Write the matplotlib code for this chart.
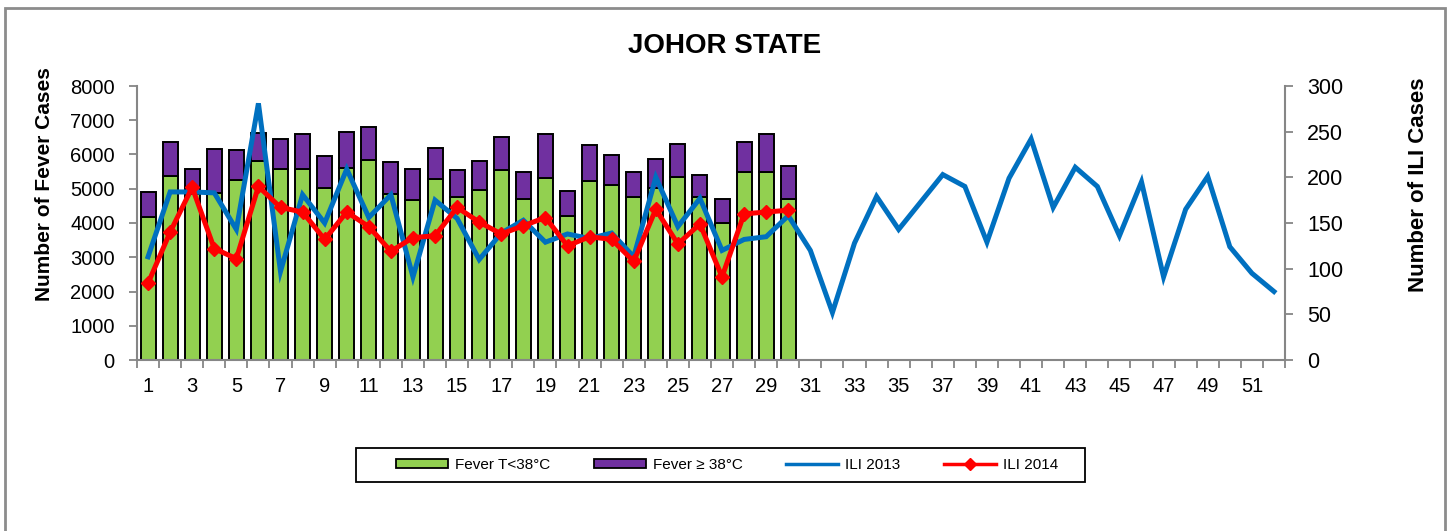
import matplotlib.pyplot as plt
import numpy as np
from matplotlib.patches import Rectangle

plt.rcParams['font.family'] = ['Liberation Sans', 'DejaVu Sans']

# epidemiological weeks
weeks = np.arange(1, 53)
weeks_2014 = np.arange(1, 31)

# fever cases 2014 (left axis)
fever_low = [4180, 5380, 4850, 4870, 5250, 5820, 5580, 5570, 5020, 5600,
             5850, 4860, 4670, 5280, 4750, 4960, 5540, 4690, 5300, 4200,
             5230, 5120, 4750, 5020, 5330, 4750, 3990, 5480, 5500, 4690]
fever_high = [720, 985, 720, 1280, 890, 820, 880, 1030, 930, 1070,
              950, 910, 910, 910, 790, 840, 980, 790, 1300, 740,
              1040, 880, 750, 850, 990, 660, 700, 890, 1100, 980]

# ILI cases (right axis)
ili_2013 = [113, 184, 184, 183, 143, 281, 97, 181, 150, 209,
            156, 181, 91, 175, 155, 110, 139, 153, 129, 138,
            133, 139, 113, 200, 146, 177, 120, 132, 135, 158,
            120, 52, 128, 179, 143, 173, 203, 190, 129, 199,
            242, 167, 211, 190, 136, 195, 91, 165, 201, 124,
            95, 75]
ili_2014 = [84, 140, 189, 122, 111, 190, 167, 162, 132, 162,
            146, 119, 134, 136, 167, 151, 138, 147, 156, 125,
            135, 132, 108, 165, 127, 149, 91, 160, 162, 164]

GREEN = '#92D050'
PURPLE = '#7030A0'
BLUE = '#0070C0'
RED = '#FF0000'
GREY = '#868686'

W, H = 1450, 531
fig = plt.figure(figsize=(W / 100, H / 100), dpi=100)
ax = fig.add_axes([137 / W, 1 - 360 / H, (1285 - 137) / W, (360 - 86) / H])
ax2 = ax.twinx()

# stacked bars
ax.bar(weeks_2014, fever_low, width=0.68, color=GREEN, edgecolor='black', linewidth=1.4)
ax.bar(weeks_2014, fever_high, bottom=fever_low, width=0.68, color=PURPLE,
       edgecolor='black', linewidth=1.4)

# ILI lines
ax2.plot(weeks, ili_2013, color=BLUE, lw=3.6, solid_joinstyle='miter', zorder=3)
ax2.plot(weeks_2014, ili_2014, color=RED, lw=3.6, marker='D', markersize=7.5,
         solid_joinstyle='miter', zorder=4)

ax.set_xlim(0.5, 52.5)
ax.set_ylim(0, 8000)
ax2.set_ylim(0, 300)
ax.set_yticks(np.arange(0, 8001, 1000))
ax2.set_yticks(np.arange(0, 301, 50))
ax.set_xticks(np.arange(1, 53, 2))
ax.set_xticks(np.arange(0.5, 53, 1), minor=True)

for a in (ax, ax2):
    for s in a.spines.values():
        s.set_visible(False)
ax.spines['left'].set_visible(True)
ax.spines['bottom'].set_visible(True)
ax2.spines['right'].set_visible(True)
for s in (ax.spines['left'], ax.spines['bottom'], ax2.spines['right']):
    s.set_color(GREY)
    s.set_linewidth(1.5)

ax.tick_params(axis='x', which='major', length=0, pad=12, labelsize=14.5)
ax.tick_params(axis='x', which='minor', length=6, width=1.3, color=GREY)
ax.tick_params(axis='y', length=6, width=1.3, color=GREY, pad=10, labelsize=14.5)
ax2.tick_params(axis='y', length=6, width=1.3, color=GREY, pad=10, labelsize=15.5)

fig.text(725 / W, 1 - 46 / H, 'JOHOR STATE', ha='center', va='center',
         fontsize=20, fontweight='bold')
fig.text(45 / W, 1 - 184 / H, 'Number of Fever Cases', rotation=90, ha='center',
         va='center', fontsize=15, fontweight='bold')
fig.text(1418 / W, 1 - 185 / H, 'Number of ILI Cases', rotation=90, ha='center',
         va='center', fontsize=16, fontweight='bold')

# legend: entries spread over the inner span, frame drawn separately
handles = [
    Rectangle((0, 0), 1, 1, facecolor=GREEN, edgecolor='black', lw=1.3),
    Rectangle((0, 0), 1, 1, facecolor=PURPLE, edgecolor='black', lw=1.3),
    plt.Line2D([], [], color=BLUE, lw=2.5),
    plt.Line2D([], [], color=RED, lw=2.5, marker='D', markersize=6),
]
labels = ['Fever T<38°C', 'Fever ≥ 38°C', 'ILI 2013', 'ILI 2014']
fig.legend(handles, labels, ncol=4, mode='expand', loc='center',
           bbox_to_anchor=(396 / W, 1 - 482 / H, (1058 - 396) / W, 34 / H),
           fontsize=11, frameon=False, handlelength=3.4, handleheight=0.45,
           borderpad=0, borderaxespad=0, handletextpad=0.45)
fig.patches.append(Rectangle((356 / W, 1 - 482 / H), (1085 - 356) / W, 34 / H,
                             transform=fig.transFigure, fill=False,
                             edgecolor='black', lw=1.3))

# outer chart border
fig.patches.append(Rectangle((5 / W, -0.05), (1445 - 5) / W, 1.05 - 8 / H,
                             transform=fig.transFigure, fill=False,
                             edgecolor='#8C8C8C', lw=2))

fig.savefig('out.png', dpi=100)
